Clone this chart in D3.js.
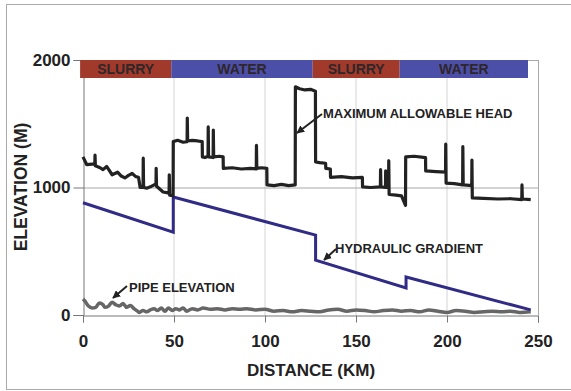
<!DOCTYPE html>
<html>
<head>
<meta charset="utf-8">
<script src="https://cdnjs.cloudflare.com/ajax/libs/d3/7.8.5/d3.min.js"></script>
<style>
  body { margin: 0; background: #fff; }
  svg { font-family: Arial, "Liberation Sans", sans-serif; font-weight: bold; }
</style>
</head>
<body>
<svg id="chart"></svg>
<script>
// Values: [distance km, elevation m]
const headData = [
  [0, 1240], [2, 1180], [6.5, 1185], [6.6, 1255], [6.8, 1170], [9.4, 1155], [11, 1140], [13, 1165],
  [16, 1100], [19, 1120], [21, 1090], [23, 1075], [25, 1095], [27, 1110], [29, 1085], [30.5, 1080],
  [31.4, 1000], [33, 1000], [33.1, 1230], [33.3, 1000], [35, 995], [37, 1005], [39.6, 1025], [40.1, 1020],
  [40.2, 1150], [40.4, 1010], [42, 990], [44, 965], [46, 960], [47.3, 955], [47.4, 1100], [47.6, 940],
  [49.5, 935], [49.6, 1360], [52, 1370], [55, 1355], [57.2, 1360], [57.3, 1545], [57.5, 1365], [60, 1370],
  [63, 1365], [65.5, 1360], [65.6, 1240], [67, 1235], [68.7, 1245], [68.8, 1475], [69, 1240], [71.5, 1235],
  [71.6, 1450], [71.8, 1240], [75, 1245], [77, 1240], [77.1, 1150], [82, 1155], [87, 1145], [92, 1150],
  [95.2, 1145], [95.3, 1330], [95.5, 1150], [98, 1155], [101, 1150], [101.1, 1020], [105, 1015],
  [109, 1025], [113, 1015], [116.6, 1020], [116.7, 1790], [119, 1775], [122, 1765], [125, 1770],
  [127.7, 1755], [127.8, 1200], [130, 1195], [133.3, 1190], [133.4, 1150], [135.9, 1145], [136, 1080],
  [142, 1085], [148, 1075], [153.5, 1080], [153.6, 1005], [158, 1000], [163.4, 1005], [163.5, 1140],
  [163.7, 1005], [166.2, 1000], [166.3, 1130], [166.5, 1000], [167.9, 1005], [168, 1210], [168.2, 945],
  [172, 940], [175, 935], [177.2, 860], [177.3, 1240], [182, 1245], [188.2, 1235], [188.3, 1130],
  [194, 1125], [199.2, 1120], [199.3, 1340], [199.5, 1035], [204, 1030], [208.6, 1020], [208.7, 1320],
  [208.9, 1030], [209.3, 1020], [213.6, 1015], [213.7, 1215], [213.9, 918], [220, 915], [228, 910],
  [235, 912], [241.1, 905], [241.2, 1020], [241.4, 910], [246, 905]
];
const gradientData = [
  [0, 880], [49.6, 650], [49.6, 925], [127.8, 627], [127.8, 430], [177.5, 212], [177.5, 298], [246, 40]
];
const pipeData = [
  [0, 125], [1, 110], [3, 70], [5, 55], [7, 60], [9, 95], [11, 80], [12, 60], [14, 70], [16, 100],
  [18, 80], [20, 70], [22, 90], [24, 60], [26, 75], [28, 50], [30, 30], [31, 20], [33, 35], [35, 25],
  [37, 40], [39, 50], [41, 35], [43, 55], [45, 30], [47, 55], [49, 35], [51, 50], [53, 40], [55, 55],
  [57, 30], [60, 50], [63, 40], [66, 55], [70, 45], [74, 50], [78, 40], [82, 50], [86, 45], [90, 50],
  [95, 40], [100, 45], [105, 30], [110, 35], [115, 25], [120, 35], [125, 30], [130, 25], [135, 40],
  [140, 45], [145, 30], [150, 40], [155, 35], [160, 25], [165, 35], [170, 40], [175, 30], [180, 35],
  [185, 25], [190, 40], [195, 30], [200, 20], [205, 35], [210, 30], [215, 20], [220, 25], [225, 30],
  [230, 25], [235, 30], [240, 20], [246, 25]
];
const bands = [
  { label: "SLURRY", from: -1.6, to: 48.5 },
  { label: "WATER", from: 48.5, to: 126.2 },
  { label: "SLURRY", from: 126.2, to: 174 },
  { label: "WATER", from: 174, to: 244.5 }
];
const xTicks = [0, 50, 100, 150, 200, 250];
const yTicks = [0, 1000, 2000];

const width = 571, height = 391;
const svg = d3.select("#chart").attr("width", width).attr("height", height);

// outer frame of the figure
svg.append("rect")
    .attr("x", 6.5).attr("y", 4.5)
    .attr("width", 570).attr("height", 385)
    .attr("fill", "none").attr("stroke", "#aaa");

const x = d3.scaleLinear().domain([0, 250]).range([83, 538]);
const y = d3.scaleLinear().domain([0, 2000]).range([315, 60]);

// vertical gridlines
svg.selectAll(".vgrid")
    .data(xTicks.slice(1, -1))
    .enter().append("line")
    .attr("x1", d => x(d)).attr("x2", d => x(d))
    .attr("y1", y(2000)).attr("y2", y(0))
    .attr("stroke", "#d4d4d4").attr("stroke-width", 1);

// horizontal gridlines + frame
svg.selectAll(".hgrid")
    .data(yTicks.slice(1))
    .enter().append("line")
    .attr("x1", x(0)).attr("x2", x(250))
    .attr("y1", d => y(d) + 0.5).attr("y2", d => y(d) + 0.5)
    .attr("stroke", "#a8a8a8").attr("stroke-width", 1);
svg.append("line")
    .attr("x1", x(250) + 0.5).attr("x2", x(250) + 0.5)
    .attr("y1", y(2000)).attr("y2", y(0))
    .attr("stroke", "#a8a8a8");

// axes
const xAxis = svg.append("g")
    .attr("transform", `translate(0,${y(0) + 0.5})`)
    .call(d3.axisBottom(x).tickValues(xTicks).tickSize(7).tickPadding(12));
const yAxis = svg.append("g")
    .attr("transform", `translate(${x(0) + 0.5},0)`)
    .call(d3.axisLeft(y).tickValues(yTicks).tickFormat(d3.format("d")).tickSize(10).tickPadding(3));
[xAxis, yAxis].forEach(g => {
  g.select(".domain").attr("stroke", "#777");
  g.selectAll(".tick line").attr("stroke", "#777");
  g.selectAll(".tick text")
      .attr("fill", "#222")
      .style("font-size", "17px")
      .style("font-weight", "bold")
      .style("font-family", "Arial, 'Liberation Sans', sans-serif");
});

// fluid bands along the top
svg.selectAll(".band")
    .data(bands)
    .enter().append("rect")
    .attr("x", d => x(d.from))
    .attr("y", 60)
    .attr("width", d => x(d.to) - x(d.from))
    .attr("height", 18)
    .attr("fill", d => d.label === "SLURRY" ? "#a23a2b" : "#4b4fa8");
svg.selectAll(".band-label")
    .data(bands)
    .enter().append("text")
    .attr("x", d => (x(d.from) + x(d.to)) / 2)
    .attr("y", 69)
    .attr("dy", "0.36em")
    .attr("text-anchor", "middle")
    .attr("fill", "#2e2628")
    .style("font-size", "14px")
    .text(d => d.label);

const line = d3.line().x(d => x(d[0])).y(d => y(d[1]));

svg.append("path")
    .datum(pipeData)
    .attr("d", line.curve(d3.curveMonotoneX))
    .attr("fill", "none")
    .attr("stroke", "#666")
    .attr("stroke-width", 3.5);

line.curve(d3.curveLinear);

svg.append("path")
    .datum(gradientData)
    .attr("d", line)
    .attr("fill", "none")
    .attr("stroke", "#2f2b86")
    .attr("stroke-width", 3);

svg.append("path")
    .datum(headData)
    .attr("d", line)
    .attr("fill", "none")
    .attr("stroke", "#222")
    .attr("stroke-width", 3.2)
    .attr("stroke-linejoin", "round");

// arrowhead marker
svg.append("defs").append("marker")
    .attr("id", "arrow")
    .attr("viewBox", "0 0 10 10")
    .attr("refX", 9).attr("refY", 5)
    .attr("markerWidth", 4).attr("markerHeight", 4)
    .attr("orient", "auto")
    .append("path")
    .attr("d", "M0,0 L10,5 L0,10 z")
    .attr("fill", "#222");

// annotations
const notes = [
  { text: "MAXIMUM ALLOWABLE HEAD", tx: 323, ty: 113, from: [322, 114], to: [297, 133] },
  { text: "HYDRAULIC GRADIENT", tx: 335, ty: 248, from: [336, 249], to: [324, 260] },
  { text: "PIPE ELEVATION", tx: 129, ty: 287, from: [127, 286], to: [113, 298] }
];
svg.selectAll(".note-arrow")
    .data(notes)
    .enter().append("line")
    .attr("x1", d => d.from[0]).attr("y1", d => d.from[1])
    .attr("x2", d => d.to[0]).attr("y2", d => d.to[1])
    .attr("stroke", "#222").attr("stroke-width", 2)
    .attr("marker-end", "url(#arrow)");
svg.selectAll(".note")
    .data(notes)
    .enter().append("text")
    .attr("x", d => d.tx).attr("y", d => d.ty)
    .attr("dy", "0.36em")
    .attr("fill", "#222")
    .style("font-size", "13px")
    .text(d => d.text);

// axis titles
svg.append("text")
    .attr("x", 311).attr("y", 370)
    .attr("dy", "0.36em")
    .attr("text-anchor", "middle")
    .attr("fill", "#222")
    .style("font-size", "17px")
    .text("DISTANCE (KM)");
svg.append("text")
    .attr("transform", "translate(21,187) rotate(-90)")
    .attr("dy", "0.36em")
    .attr("text-anchor", "middle")
    .attr("fill", "#222")
    .style("font-size", "17.5px")
    .text("ELEVATION (M)");
</script>
</body>
</html>
